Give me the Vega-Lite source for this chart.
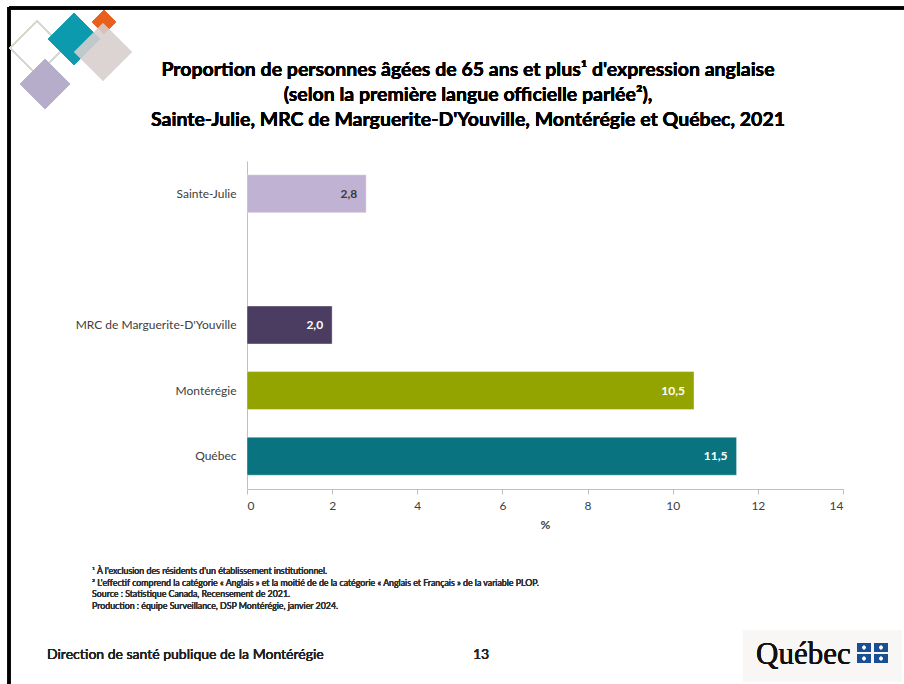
{
  "$schema": "https://vega.github.io/schema/vega-lite/v6.json",
  "width": 596,
  "height": 328,
  "autosize": {"type": "none"},
  "padding": {"left": 247, "top": 161, "right": 61, "bottom": 195},
  "background": "white",
  "config": {"view": {"stroke": null}, "font": "Lato"},
  "data": {
    "values": [
      {"region": "Sainte-Julie", "value": 2.8, "label": "2,8"},
      {"region": "MRC de Marguerite-D'Youville", "value": 2.0, "label": "2,0"},
      {"region": "Montérégie", "value": 10.5, "label": "10,5"},
      {"region": "Québec", "value": 11.5, "label": "11,5"}
    ]
  },
  "layer": [
    {
      "mark": {"type": "rule", "stroke": "#000000", "strokeWidth": 3},
      "encoding": {"x": {"value": -238}, "x2": {"value": 657}, "y": {"value": -153}}
    },
    {
      "mark": {"type": "rule", "stroke": "#000000", "strokeWidth": 3},
      "encoding": {"x": {"value": -238}, "y": {"value": -154}, "y2": {"value": 523}}
    },
    {
      "mark": {"type": "point", "shape": "diamond", "filled": false, "stroke": "#d3dacd", "strokeWidth": 1.5, "opacity": 1, "size": 2916},
      "encoding": {"x": {"value": -210}, "y": {"value": -113}}
    },
    {
      "mark": {"type": "point", "shape": "diamond", "filled": true, "fill": "#b5adc9", "opacity": 1, "size": 2500},
      "encoding": {"x": {"value": -202}, "y": {"value": -77}}
    },
    {
      "mark": {"type": "point", "shape": "diamond", "filled": true, "fill": "#0b9aae", "opacity": 1, "size": 2704},
      "encoding": {"x": {"value": -173}, "y": {"value": -122}}
    },
    {
      "mark": {"type": "point", "shape": "diamond", "filled": true, "fill": "#e8601c", "opacity": 1, "size": 576},
      "encoding": {"x": {"value": -143}, "y": {"value": -139}}
    },
    {
      "mark": {"type": "point", "shape": "diamond", "filled": true, "fill": "rgba(214,208,204,0.42)", "opacity": 1, "size": 3364},
      "encoding": {"x": {"value": -144}, "y": {"value": -109}}
    },
    {
      "mark": {"type": "text", "align": "center", "baseline": "middle", "fontSize": 19.5, "fontWeight": "bold", "font": "Lato", "color": "#000000", "lineHeight": 25,
        "text": ["Proportion de personnes âgées de 65 ans et plus¹ d'expression anglaise", "(selon la première langue officielle parlée²),", "Sainte-Julie, MRC de Marguerite-D'Youville, Montérégie et Québec, 2021"]},
      "encoding": {"x": {"value": 221}, "y": {"value": -91}}
    },
    {
      "mark": {"type": "bar", "stroke": "#ffffff", "strokeOpacity": 0.4, "strokeWidth": 1},
      "encoding": {
        "y": {
          "field": "region",
          "type": "nominal",
          "scale": {"domain": ["Sainte-Julie", "gap", "MRC de Marguerite-D'Youville", "Montérégie", "Québec"], "paddingInner": 0.42, "paddingOuter": 0.21},
          "axis": {
            "title": null,
            "labelExpr": "datum.value == 'gap' ? '' : datum.value",
            "ticks": false,
            "domainColor": "#bfbfbf",
            "labelFont": "Lato",
            "labelFontSize": 12,
            "labelFontWeight": "normal",
            "labelColor": "#404040",
            "labelPadding": 11
          }
        },
        "x": {
          "field": "value",
          "type": "quantitative",
          "scale": {"domain": [0, 14], "nice": false},
          "axis": {
            "values": [0, 2, 4, 6, 8, 10, 12, 14],
            "grid": false,
            "title": "%",
            "titleFont": "Lato",
            "titleFontSize": 12,
            "titleFontWeight": "bold",
            "titleColor": "#404040",
            "titlePadding": 8,
            "domainColor": "#bfbfbf",
            "tickColor": "#bfbfbf",
            "tickSize": 5,
            "labelFont": "Lato",
            "labelFontSize": 12,
            "labelColor": "#404040",
            "labelPadding": 6
          }
        },
        "color": {
          "field": "region",
          "type": "nominal",
          "scale": {"domain": ["Sainte-Julie", "MRC de Marguerite-D'Youville", "Montérégie", "Québec"], "range": ["#c0b2d2", "#4b3c61", "#93a300", "#097480"]},
          "legend": null
        }
      }
    },
    {
      "mark": {"type": "text", "align": "right", "dx": -9, "fontWeight": "bold", "fontSize": 12, "font": "Lato"},
      "encoding": {
        "y": {"field": "region", "type": "nominal"},
        "x": {"field": "value", "type": "quantitative"},
        "text": {"field": "label"},
        "color": {
          "condition": {"test": "datum.region == 'Sainte-Julie'", "value": "#3a3a3a"},
          "value": "#ffffff"
        }
      }
    },
    {
      "mark": {"type": "text", "align": "left", "baseline": "middle", "fontSize": 8.8, "fontWeight": "normal", "font": "Lato", "color": "#333333", "lineHeight": 11.5,
        "text": ["¹ À l'exclusion des résidents d'un établissement institutionnel.", "² L'effectif comprend la catégorie « Anglais » et la moitié de de la catégorie « Anglais et Français » de la variable PLOP.", "Source : Statistique Canada, Recensement de 2021.", "Production : équipe Surveillance, DSP Montérégie, janvier 2024."]},
      "encoding": {"x": {"value": -155}, "y": {"value": 410}}
    },
    {
      "mark": {"type": "text", "align": "left", "baseline": "middle", "fontSize": 14, "fontWeight": "normal", "font": "Lato", "color": "#222222", "text": "Direction de santé publique de la Montérégie"},
      "encoding": {"x": {"value": -200}, "y": {"value": 494}}
    },
    {
      "mark": {"type": "text", "align": "left", "baseline": "middle", "fontSize": 14, "fontWeight": "normal", "font": "Lato", "color": "#222222", "text": "13"},
      "encoding": {"x": {"value": 226}, "y": {"value": 494}}
    },
    {
      "mark": {"type": "rect", "color": "#f8f7f6"},
      "encoding": {"x": {"value": 496}, "x2": {"value": 655}, "y": {"value": 469}, "y2": {"value": 521}}
    },
    {
      "mark": {"type": "text", "align": "left", "baseline": "middle", "fontSize": 31, "fontWeight": "normal", "font": "Liberation Serif", "color": "#111111", "text": "Québec"},
      "encoding": {"x": {"value": 509}, "y": {"value": 494}}
    },
    {
      "mark": {"type": "rect", "color": "#1a4f95"},
      "encoding": {"x": {"value": 610}, "x2": {"value": 624}, "y": {"value": 482}, "y2": {"value": 491}}
    },
    {
      "mark": {"type": "rect", "color": "#1a4f95"},
      "encoding": {"x": {"value": 627}, "x2": {"value": 641}, "y": {"value": 482}, "y2": {"value": 491}}
    },
    {
      "mark": {"type": "rect", "color": "#1a4f95"},
      "encoding": {"x": {"value": 610}, "x2": {"value": 624}, "y": {"value": 493}, "y2": {"value": 502}}
    },
    {
      "mark": {"type": "rect", "color": "#1a4f95"},
      "encoding": {"x": {"value": 627}, "x2": {"value": 641}, "y": {"value": 493}, "y2": {"value": 502}}
    },
    {
      "mark": {"type": "point", "shape": "cross", "filled": true, "fill": "#ffffff", "opacity": 1, "size": 14},
      "encoding": {"x": {"value": 617}, "y": {"value": 486.5}}
    },
    {
      "mark": {"type": "point", "shape": "cross", "filled": true, "fill": "#ffffff", "opacity": 1, "size": 14},
      "encoding": {"x": {"value": 634}, "y": {"value": 486.5}}
    },
    {
      "mark": {"type": "point", "shape": "cross", "filled": true, "fill": "#ffffff", "opacity": 1, "size": 14},
      "encoding": {"x": {"value": 617}, "y": {"value": 497.5}}
    },
    {
      "mark": {"type": "point", "shape": "cross", "filled": true, "fill": "#ffffff", "opacity": 1, "size": 14},
      "encoding": {"x": {"value": 634}, "y": {"value": 497.5}}
    }
  ]
}
